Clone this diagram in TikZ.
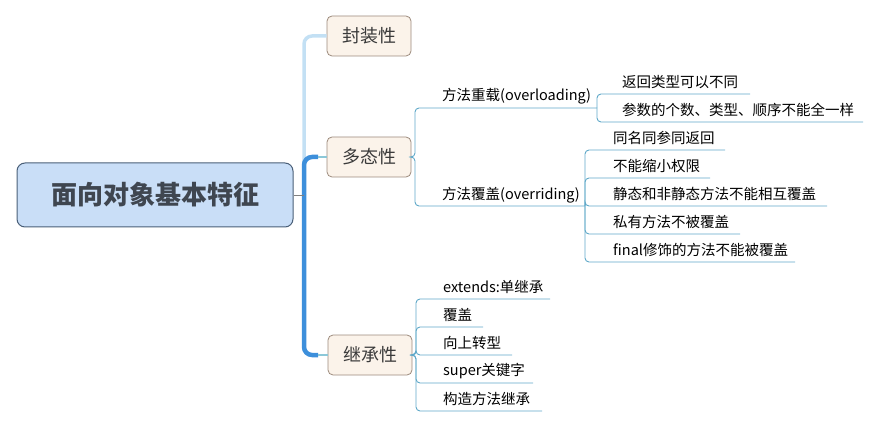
\documentclass[tikz,border=0pt]{standalone}
\usepackage{fontspec}
\newfontfamily\cjk{Noto Sans CJK SC}
\begin{document}
\begin{tikzpicture}[x=1pt, y=-1pt,
    rootBox/.style={draw=rootBorder, fill=rootFill, line width=1pt, rounded corners=8pt,
        minimum width=276pt, minimum height=64pt, text=rootText,
        font=\cjk\bfseries\fontsize{26}{30}\selectfont},
    topicBox/.style={draw=topicBorder, fill=topicFill, line width=0.8pt, rounded corners=5pt,
        minimum width=84pt, minimum height=40pt, text=topicText,
        font=\cjk\fontsize{18}{22}\selectfont},
    leaf/.style={anchor=west, inner sep=0pt, font=\cjk\fontsize{14.5}{16}\selectfont},
    branchLight/.style={draw=branchColourA, line width=3.5pt, rounded corners=8pt},
    branchDark/.style={draw=branchColourB, line width=4.5pt, rounded corners=8pt},
    stubLine/.style={draw=stubColour, line width=1.5pt},
    subLine/.style={draw=lineColour, line width=0.9pt, rounded corners=4pt}]
    \definecolor{rootBorder}{HTML}{4A5F78}
    \definecolor{rootFill}{HTML}{C9DEF7}
    \definecolor{rootText}{HTML}{3F4650}
    \definecolor{topicBorder}{HTML}{9C8A7C}
    \definecolor{topicFill}{HTML}{FBF3EA}
    \definecolor{topicText}{HTML}{3A3A3A}
    \definecolor{branchColourA}{HTML}{C3E0F4}
    \definecolor{branchColourB}{HTML}{3D8FDB}
    \definecolor{stubColour}{HTML}{8CC8D8}
    \definecolor{lineColour}{HTML}{5FA8C8}

    \useasboundingbox (0,0) rectangle (880,427);

    % Root and main topics
    \node[rootBox] (root) at (155,195) {面向对象基本特征};
    \node[topicBox] (enc) at (369,36) {封装性};
    \node[topicBox] (poly) at (369,157) {多态性};
    \node[topicBox] (inh) at (370,355) {继承性};

    % Trunk
    \coordinate (hub) at (304,195);
    \coordinate (polyIn) at (318,157);
    \coordinate (inhIn) at (318,355);
    \draw[branchLight] (hub) |- (enc.west);
    \draw[branchDark] (hub) |- (polyIn);
    \draw[branchDark] (hub) |- (inhIn);
    \draw[stubLine] (polyIn) -- (poly.west);
    \draw[stubLine] (inhIn) -- (inh.west);
    \draw[draw=gray, line width=0.8pt] (root.east) -- (hub);

    % Polymorphism: overloading / overriding
    \coordinate (polyJ) at (415,157);
    \coordinate (olEnd) at (597,108);
    \coordinate (ovEnd) at (585,206);
    \node[leaf] (ol) at (442,96) {方法重载(overloading)};
    \node[leaf] (ov) at (442,195) {方法覆盖(overriding)};
    \draw[subLine] (poly.east) -- (polyJ) |- (olEnd);
    \draw[subLine] (poly.east) -- (polyJ) |- (ovEnd);

    % Overloading rules
    \node[leaf] (r1) at (622,82) {返回类型可以不同};
    \node[leaf] (r2) at (622,110) {参数的个数、类型、顺序不能全一样};
    \coordinate (r1End) at (750,94);
    \coordinate (r2End) at (863,122);
    \draw[subLine] (olEnd) |- (r1End);
    \draw[subLine] (olEnd) |- (r2End);

    % Overriding rules
    \foreach \i/\y/\e/\t in {1/138/725/同名同参同返回, 2/166/710/不能缩小权限,
        3/194/827/静态和非静态方法不能相互覆盖, 4/222/740/私有方法不被覆盖,
        5/250/795/final修饰的方法不能被覆盖} {
        \node[leaf] (o\i) at (613,\y) {\t};
        \coordinate (o\i End) at (\e,\y+12);
        \draw[subLine] (ovEnd) |- (o\i End);
    }

    % Inheritance
    \coordinate (inhJ) at (416,355);
    \foreach \i/\y/\e/\t in {1/287/550/extends:单继承, 2/315/483/覆盖,
        3/343/512/向上转型, 4/371/533/super关键字, 5/399/542/构造方法继承} {
        \node[leaf] (i\i) at (443,\y) {\t};
        \coordinate (i\i End) at (\e,\y+12);
        \draw[subLine] (inh.east) -- (inhJ) |- (i\i End);
    }
\end{tikzpicture}
\end{document}
